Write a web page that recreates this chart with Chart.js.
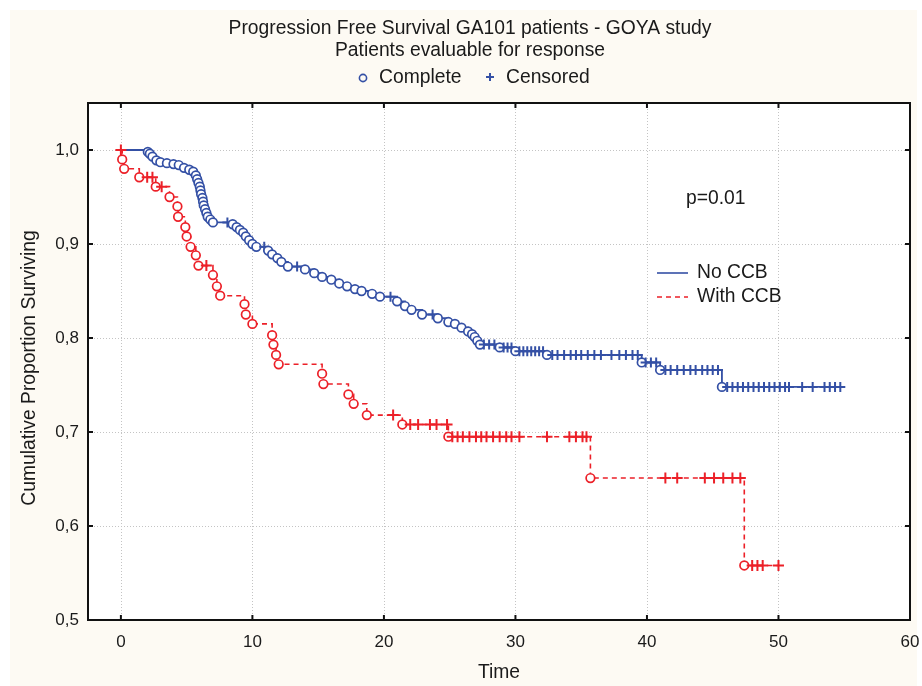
<!DOCTYPE html>
<html>
<head>
<meta charset="utf-8">
<script src="https://cdn.jsdelivr.net/npm/chart.js@4.4.0/dist/chart.umd.min.js"></script>
<style>
  html, body { margin: 0; padding: 0; background: #fff; }
  canvas { display: block; }
</style>
</head>
<body>
<canvas id="kmChart" width="922" height="686"></canvas>
<script>
// Kaplan-Meier data: event times + survival after each event,
// plus the censored times (drawn as crosses on the current level)
const noCcbEventTimes = [2.05, 2.2, 2.4, 2.7, 3.0, 3.5, 4.0, 4.4, 4.8, 5.2, 5.5, 5.7, 5.8, 5.9, 6.0, 6.05, 6.1, 6.2, 6.25, 6.3, 6.4, 6.5, 6.6, 6.8, 7.0,
  8.5, 8.8, 9.05, 9.3, 9.5, 9.75, 10.0, 10.3, 11.2, 11.5, 11.9, 12.2, 12.7,
  14.0, 14.7, 15.3, 16.0, 16.6, 17.2, 17.8, 18.3, 19.1, 19.7, 21.0, 21.6, 22.1, 22.9,
  24.1, 24.9, 25.4, 25.9, 26.4, 26.7, 26.9, 27.1, 27.3, 28.8, 30.0, 32.4, 39.6, 41.0, 45.7];
const noCcbEventSurv = [0.998, 0.996, 0.993, 0.989, 0.987, 0.986, 0.985, 0.984, 0.981, 0.979, 0.977, 0.973, 0.969, 0.965, 0.961, 0.957, 0.953, 0.949, 0.945, 0.941, 0.937, 0.933, 0.929, 0.926, 0.923,
  0.921, 0.918, 0.915, 0.912, 0.908, 0.904, 0.900, 0.897, 0.893, 0.889, 0.885, 0.881, 0.876,
  0.873, 0.869, 0.865, 0.862, 0.858, 0.855, 0.852, 0.850, 0.847, 0.844, 0.839, 0.834, 0.830, 0.825,
  0.821, 0.817, 0.815, 0.811, 0.807, 0.804, 0.801, 0.797, 0.793, 0.790, 0.786, 0.782, 0.774, 0.766, 0.748];
const noCcbCensored = [8.1, 10.9, 13.4, 20.5, 23.7, 27.6, 28.0, 28.4, 29.1, 29.4, 29.7, 30.3, 30.6, 30.9, 31.2, 31.5, 31.8, 32.1,
  32.8, 33.2, 33.7, 34.2, 34.6, 35.0, 35.5, 36.0, 36.5, 37.3, 37.9, 38.4, 38.9, 39.3, 39.9, 40.3, 40.7,
  41.4, 41.8, 42.3, 42.8, 43.3, 43.7, 44.2, 44.6, 45.0, 45.4, 46.1, 46.5, 46.9, 47.3, 47.7, 48.1, 48.5, 48.9, 49.3, 49.7, 50.1,
  50.5, 50.8, 51.8, 52.6, 53.5, 53.9, 54.3, 54.7];

const withCcbEventTimes = [0.1, 0.25, 1.4, 2.65, 3.7, 4.3, 4.35, 4.9, 5.0, 5.3, 5.7, 5.9, 7.0, 7.3, 7.55, 9.4, 9.5, 10.0,
  11.5, 11.6, 11.8, 12.0, 15.3, 15.4, 17.3, 17.7, 18.7, 21.4, 24.9, 35.7, 47.4];
const withCcbEventSurv = [0.990, 0.980, 0.971, 0.961, 0.950, 0.940, 0.929, 0.918, 0.908, 0.897, 0.888, 0.877, 0.867, 0.855, 0.845, 0.836, 0.825, 0.815,
  0.803, 0.793, 0.782, 0.772, 0.762, 0.751, 0.740, 0.730, 0.718, 0.708, 0.695, 0.651, 0.558];
const withCcbCensored = [0, 2.0, 2.4, 3.1, 6.5, 20.7, 22.0, 22.6, 23.5, 24.0, 24.8, 25.2, 25.6, 26.0, 26.5, 27.0, 27.4, 27.8, 28.3, 28.8,
  29.3, 29.7, 30.3, 32.4, 34.1, 34.6, 35.1, 35.4, 41.4, 42.3, 44.4, 45.1, 45.8, 46.5, 47.1, 48.0, 48.4, 48.8, 50.0];

const xTicks = [0, 10, 20, 30, 40, 50, 60];
const yTicks = [0.5, 0.6, 0.7, 0.8, 0.9, 1.0];

const BLUE = "rgb(52,80,165)";
const RED = "rgb(236,32,40)";
const FONT = '"Liberation Sans", Arial, sans-serif';

// merge events and censored times into one step curve
function buildCurve(times, surv, cens, startMarker) {
  const pts = [{ x: 0, y: 1, c: true, hide: !startMarker }];
  times.forEach((t, i) => pts.push({ x: t, y: surv[i], c: false }));
  cens.forEach((t) => {
    if (t === 0) return;
    let level = 1;
    times.forEach((et, i) => { if (et <= t) level = surv[i]; });
    pts.push({ x: t, y: level, c: true });
  });
  pts.sort((a, b) => a.x - b.x);
  return pts;
}

const noCcbPoints = buildCurve(noCcbEventTimes, noCcbEventSurv, noCcbCensored, false);
const withCcbPoints = buildCurve(withCcbEventTimes, withCcbEventSurv, withCcbCensored, true);

function markerOpts(color, crossSize) {
  return {
    pointStyle: (ctx) => (ctx.raw && ctx.raw.c ? "cross" : "circle"),
    pointRadius: (ctx) => (ctx.raw && ctx.raw.hide ? 0 : ctx.raw && ctx.raw.c ? crossSize : 4.3),
    pointBorderWidth: (ctx) => (ctx.raw && ctx.raw.c ? 2 : 1.7),
    pointBackgroundColor: "#fff",
    pointBorderColor: color,
    pointHoverRadius: 4,
  };
}

const framePlugin = {
  id: "frame",
  beforeDraw(chart) {
    const { ctx, chartArea: a } = chart;
    ctx.save();
    ctx.fillStyle = "#fff";
    ctx.fillRect(0, 0, chart.width, chart.height);
    ctx.fillStyle = "rgb(253,250,243)";
    ctx.fillRect(10, 10, 907, 676);
    ctx.fillStyle = "#fff";
    ctx.fillRect(a.left, a.top, a.right - a.left, a.bottom - a.top);
    ctx.restore();
  },
  beforeDatasetsDraw(chart) {
    const { ctx, chartArea: a, scales } = chart;
    ctx.save();
    ctx.strokeStyle = "#c4c4c4";
    ctx.lineWidth = 1;
    ctx.setLineDash([1, 2]);
    xTicks.forEach((v) => {
      const px = Math.round(scales.x.getPixelForValue(v)) + 0.5;
      if (px >= a.right - 1) return;
      ctx.beginPath(); ctx.moveTo(px, a.top); ctx.lineTo(px, a.bottom); ctx.stroke();
    });
    yTicks.forEach((v) => {
      const py = Math.round(scales.y.getPixelForValue(v)) + 0.5;
      if (py >= a.bottom - 1) return;
      ctx.beginPath(); ctx.moveTo(a.left, py); ctx.lineTo(a.right, py); ctx.stroke();
    });
    ctx.restore();
  },
  afterDraw(chart) {
    const { ctx, chartArea: a, scales } = chart;
    ctx.save();
    // frame + inner tick marks on all four sides
    ctx.strokeStyle = "#111";
    ctx.lineWidth = 2;
    ctx.strokeRect(a.left, a.top, a.right - a.left, a.bottom - a.top);
    xTicks.forEach((v) => {
      const px = scales.x.getPixelForValue(v);
      ctx.beginPath(); ctx.moveTo(px, a.bottom); ctx.lineTo(px, a.bottom - 5); ctx.stroke();
      ctx.beginPath(); ctx.moveTo(px, a.top); ctx.lineTo(px, a.top + 5); ctx.stroke();
    });
    yTicks.forEach((v) => {
      const py = scales.y.getPixelForValue(v);
      ctx.beginPath(); ctx.moveTo(a.left, py); ctx.lineTo(a.left + 5, py); ctx.stroke();
      ctx.beginPath(); ctx.moveTo(a.right, py); ctx.lineTo(a.right - 5, py); ctx.stroke();
    });

    ctx.fillStyle = "#1a1a1a";
    ctx.textBaseline = "middle";
    ctx.font = "19.3px " + FONT;
    ctx.textAlign = "center";
    ctx.fillText("Progression Free Survival GA101 patients - GOYA study", 470, 29);
    ctx.fillText("Patients evaluable for response", 470, 51);
    ctx.fillText("Time", 499, 673);

    // marker legend under title
    ctx.textAlign = "left";
    ctx.fillText("Complete", 379, 78);
    ctx.fillText("Censored", 506, 78);
    ctx.strokeStyle = BLUE;
    ctx.lineWidth = 1.6;
    ctx.beginPath(); ctx.arc(363, 78, 3.6, 0, Math.PI * 2); ctx.stroke();
    ctx.lineWidth = 2;
    ctx.beginPath();
    ctx.moveTo(486, 77); ctx.lineTo(494, 77);
    ctx.moveTo(490, 73); ctx.lineTo(490, 81);
    ctx.stroke();

    // p value and series legend inside the plot
    ctx.fillText("p=0.01", 686, 199);
    ctx.fillText("No CCB", 697, 273);
    ctx.fillText("With CCB", 697, 297);
    ctx.lineWidth = 1.6;
    ctx.strokeStyle = BLUE;
    ctx.beginPath(); ctx.moveTo(657, 273); ctx.lineTo(688, 273); ctx.stroke();
    ctx.strokeStyle = RED;
    ctx.setLineDash([5, 4]);
    ctx.beginPath(); ctx.moveTo(657, 297); ctx.lineTo(688, 297); ctx.stroke();
    ctx.setLineDash([]);

    // rotated y title
    ctx.translate(30, 368);
    ctx.rotate(-Math.PI / 2);
    ctx.textAlign = "center";
    ctx.fillText("Cumulative Proportion Surviving", 0, 0);
    ctx.restore();
  },
};

const ctx = document.getElementById("kmChart").getContext("2d");
const kmChart = new Chart(ctx, {
  type: "line",
  data: {
    datasets: [
      {
        label: "With CCB",
        data: withCcbPoints,
        borderColor: RED,
        borderWidth: 1.6,
        borderDash: [5, 4],
        stepped: "before",
        fill: false,
        order: 0,
        ...markerOpts(RED, 5.5),
      },
      {
        label: "No CCB",
        data: noCcbPoints,
        borderColor: BLUE,
        borderWidth: 1.8,
        stepped: "before",
        fill: false,
        order: 1,
        ...markerOpts(BLUE, 5),
      },
    ],
  },
  options: {
    responsive: false,
    animation: false,
    layout: { padding: { top: 103, right: 12, left: 0, bottom: 0 } },
    plugins: {
      legend: { display: false },
      title: { display: false },
      tooltip: { enabled: false },
    },
    scales: {
      x: {
        type: "linear",
        min: -2.5,
        max: 60,
        afterBuildTicks: (s) => { s.ticks = xTicks.map((v) => ({ value: v })); },
        afterFit: (s) => { s.height = 66; s.paddingLeft = 0; s.paddingRight = 0; },
        grid: { display: false, drawTicks: false },
        border: { display: false },
        ticks: { padding: 12, color: "#1a1a1a", font: { family: FONT, size: 17 }, maxRotation: 0 },
      },
      y: {
        type: "linear",
        min: 0.5,
        max: 1.05,
        afterBuildTicks: (s) => { s.ticks = yTicks.map((v) => ({ value: v })); },
        afterFit: (s) => { s.width = 88; s.paddingTop = 0; s.paddingBottom = 0; },
        grid: { display: false, drawTicks: false },
        border: { display: false },
        ticks: {
          padding: 9,
          color: "#1a1a1a",
          font: { family: FONT, size: 17 },
          callback: (v) => v.toFixed(1).replace(".", ","),
        },
      },
    },
  },
  plugins: [framePlugin],
});
</script>
</body>
</html>
